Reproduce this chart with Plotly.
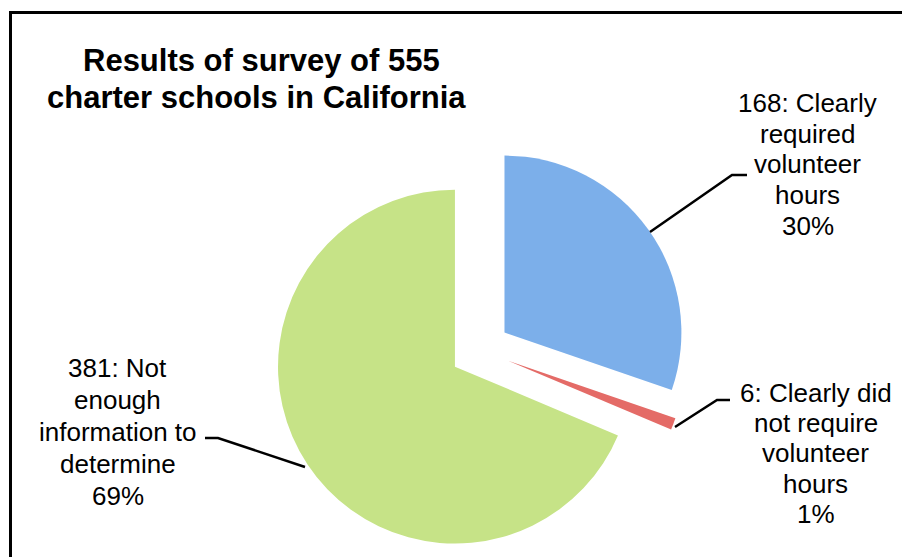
import plotly.graph_objects as go

# ---- data ----
values = [168, 6, 381]
categories = ["Clearly required volunteer hours",
              "Clearly did not require volunteer hours",
              "Not enough information to determine"]
label_lines = [["Clearly", "required", "volunteer", "hours"],
               ["Clearly did", "not require", "volunteer", "hours"],
               ["Not", "enough", "information to", "determine"]]
title_lines = ["Results of survey of 555", "charter schools in California"]

# ---- style ----
OFF = 8                      # page body margin of the browser
W, H = 910 - OFF, 557 - OFF
colors = ["#7cafea", "#e46b67", "#c6e387"]
pulls = [0.17, 0.17, 0.17]
FONT = "Liberation Sans, Arial, sans-serif"


def px(x):
    return (x - OFF) / W


def py(y):
    return 1 - (y - OFF) / H


fig = go.Figure()
fig.add_trace(go.Pie(
    values=values, labels=categories, sort=False, direction="clockwise",
    rotation=0, pull=pulls, textinfo="none", hoverinfo="label+value+percent",
    marker=dict(colors=colors, line=dict(width=0)),
    domain=dict(x=[px(272), px(688)], y=[0, py(143)]),
    showlegend=False,
))

total = sum(values)
# label block placement: (center x, first-line y, line spacing) in pixels
label_pos = [(807.5, 102.6, 30.9), (815.5, 392.6, 30.4), (117.5, 367.6, 32.1)]
annotations = []
for v, lines, (cx, y0, dy) in zip(values, label_lines, label_pos):
    pct = round(100 * v / total)
    full = [f"{v}: {lines[0]}"] + lines[1:] + [f"{pct}%"]
    for i, t in enumerate(full):
        annotations.append(dict(
            x=px(cx), y=py(y0 + i * dy), xref="paper", yref="paper",
            text=t, showarrow=False, xanchor="center", yanchor="middle",
            font=dict(family=FONT, size=26, color="#000000")))

title_pos = [(261, 60), (256.5, 97)]
for t, (cx, cy) in zip(title_lines, title_pos):
    annotations.append(dict(
        x=px(cx), y=py(cy), xref="paper", yref="paper",
        text=f"<b>{t}</b>", showarrow=False, xanchor="center", yanchor="middle",
        font=dict(family=FONT, size=31, color="#000000")))

leaders = [[(747, 175), (732, 175), (650, 232)],
           [(730, 400), (717, 400), (675, 427)],
           [(205, 438), (218, 438), (305, 467)]]
shapes = []
for pts in leaders:
    path = "M " + " L ".join(f"{px(x):.5f},{py(y):.5f}" for x, y in pts)
    shapes.append(dict(type="path", path=path, xref="paper", yref="paper",
                       line=dict(color="#000000", width=2.5)))

# chart frame (extends past right and bottom edges)
shapes.append(dict(type="rect", xref="paper", yref="paper",
                   x0=px(10.5), x1=1.05, y0=-0.05, y1=py(12.5),
                   line=dict(color="#000000", width=3), fillcolor="rgba(0,0,0,0)",
                   layer="below"))

fig.update_layout(
    width=W, height=H, margin=dict(l=0, r=0, t=0, b=0),
    paper_bgcolor="#ffffff", plot_bgcolor="#ffffff",
    annotations=annotations, shapes=shapes,
    font=dict(family=FONT),
)

fig.write_html("out.html")
